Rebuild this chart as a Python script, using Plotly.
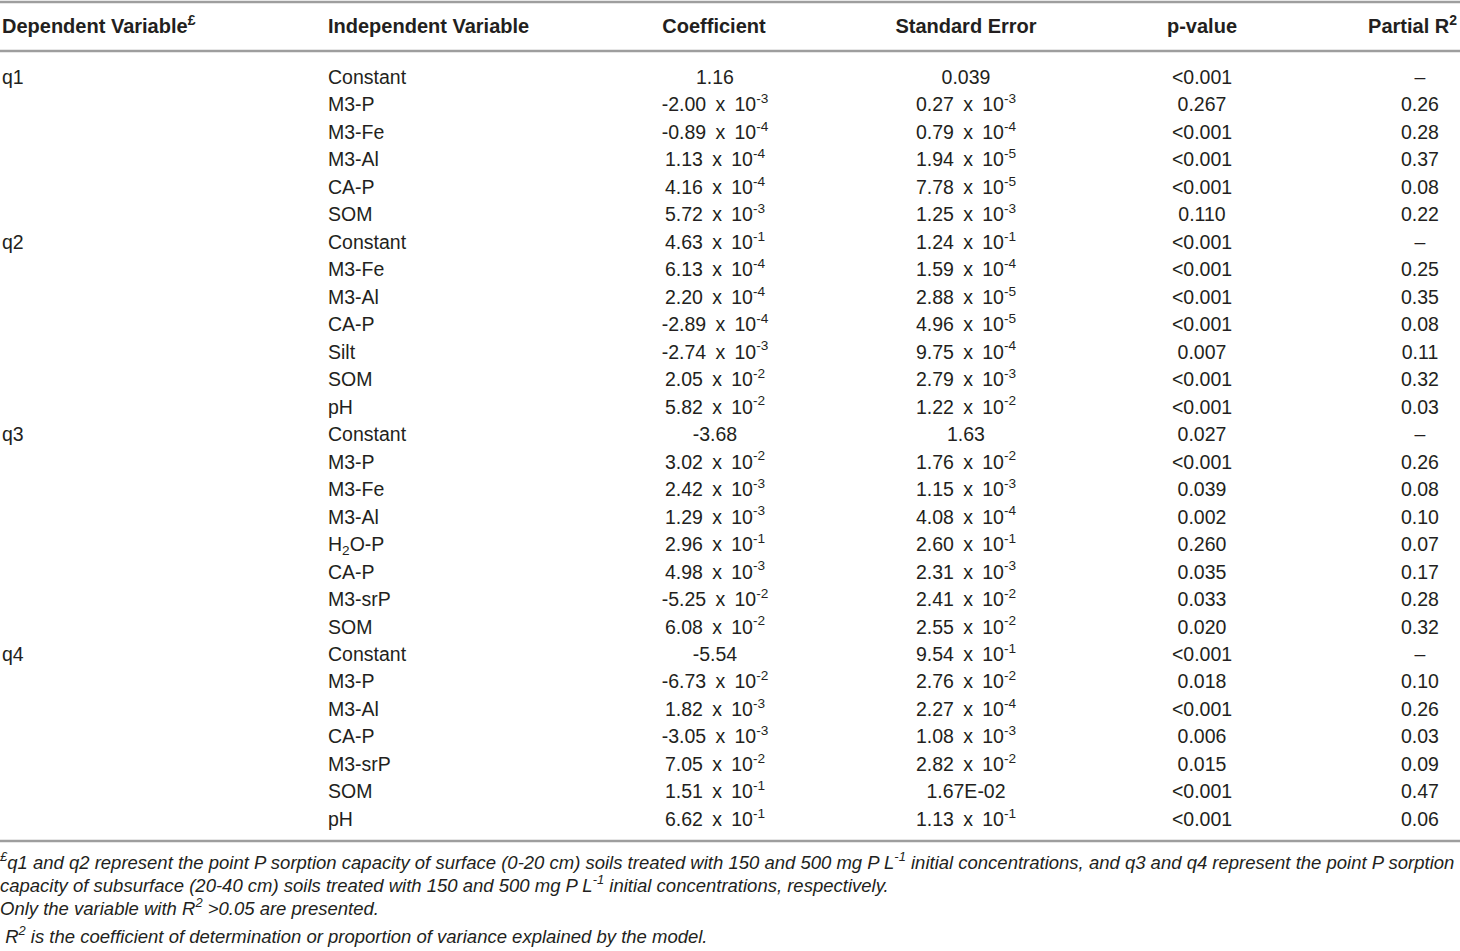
import re
import plotly.graph_objects as go

# table content
headers = ["Dependent Variable<sup>£</sup>", "Independent Variable", "Coefficient",
           "Standard Error", "p-value", "Partial R<sup>2</sup>"]

groups = ["q1", "q2", "q3", "q4"]
group_sizes = [6, 7, 8, 7]

independent = ["Constant", "M3-P", "M3-Fe", "M3-Al", "CA-P", "SOM",
               "Constant", "M3-Fe", "M3-Al", "CA-P", "Silt", "SOM", "pH",
               "Constant", "M3-P", "M3-Fe", "M3-Al", "H<sub>2</sub>O-P", "CA-P", "M3-srP", "SOM",
               "Constant", "M3-P", "M3-Al", "CA-P", "M3-srP", "SOM", "pH"]

coefficient = ["1.16", "-2.00 x 10^-3", "-0.89 x 10^-4", "1.13 x 10^-4", "4.16 x 10^-4", "5.72 x 10^-3",
               "4.63 x 10^-1", "6.13 x 10^-4", "2.20 x 10^-4", "-2.89 x 10^-4", "-2.74 x 10^-3",
               "2.05 x 10^-2", "5.82 x 10^-2",
               "-3.68", "3.02 x 10^-2", "2.42 x 10^-3", "1.29 x 10^-3", "2.96 x 10^-1", "4.98 x 10^-3",
               "-5.25 x 10^-2", "6.08 x 10^-2",
               "-5.54", "-6.73 x 10^-2", "1.82 x 10^-3", "-3.05 x 10^-3", "7.05 x 10^-2",
               "1.51 x 10^-1", "6.62 x 10^-1"]

std_error = ["0.039", "0.27 x 10^-3", "0.79 x 10^-4", "1.94 x 10^-5", "7.78 x 10^-5", "1.25 x 10^-3",
             "1.24 x 10^-1", "1.59 x 10^-4", "2.88 x 10^-5", "4.96 x 10^-5", "9.75 x 10^-4",
             "2.79 x 10^-3", "1.22 x 10^-2",
             "1.63", "1.76 x 10^-2", "1.15 x 10^-3", "4.08 x 10^-4", "2.60 x 10^-1", "2.31 x 10^-3",
             "2.41 x 10^-2", "2.55 x 10^-2",
             "9.54 x 10^-1", "2.76 x 10^-2", "2.27 x 10^-4", "1.08 x 10^-3", "2.82 x 10^-2",
             "1.67E-02", "1.13 x 10^-1"]

p_value = ["<0.001", "0.267", "<0.001", "<0.001", "<0.001", "0.110",
           "<0.001", "<0.001", "<0.001", "<0.001", "0.007", "<0.001", "<0.001",
           "0.027", "<0.001", "0.039", "0.002", "0.260", "0.035", "0.033", "0.020",
           "<0.001", "0.018", "<0.001", "0.006", "0.015", "<0.001", "<0.001"]

partial_r2 = ["–", "0.26", "0.28", "0.37", "0.08", "0.22",
              "–", "0.25", "0.35", "0.08", "0.11", "0.32", "0.03",
              "–", "0.26", "0.08", "0.10", "0.07", "0.17", "0.28", "0.32",
              "–", "0.10", "0.26", "0.03", "0.09", "0.47", "0.06"]

footnotes = [
    "<sup>£</sup>q1 and q2 represent the point P sorption capacity of surface (0-20 cm) soils treated with "
    "150 and 500 mg P L<sup>-1</sup> initial concentrations, and q3 and q4 represent the point P sorption",
    "capacity of subsurface (20-40 cm) soils treated with 150 and 500 mg P L<sup>-1</sup> "
    "initial concentrations, respectively.",
    "Only the variable with R<sup>2</sup> &gt;0.05 are presented.",
    "&nbsp;R<sup>2</sup> is the coefficient of determination or proportion of variance explained by the model.",
]


def fmt(s):
    if s.startswith("<"):
        s = "&lt;" + s[1:]
    s = s.replace(" x ", "&nbsp;&#8201;x&#8201;&nbsp;")
    return re.sub(r"10\^(-?\d+)", r"10<sup>\1</sup>", s)


dependent = []
for g, n in zip(groups, group_sizes):
    dependent += [g] + [""] * (n - 1)

FONT = "Liberation Sans"
INK = "#231f20"
RULE = "#9e9e9e"

n_rows = len(independent)
row_y = [79 + i * (821 - 79) / (n_rows - 1) for i in range(n_rows)]
header_y = 28

# (x, textposition) per column
cols = [
    (2, "middle right"),
    (328, "middle right"),
    (715, "middle center"),
    (966, "middle center"),
    (1202, "middle center"),
    (1420, "middle center"),
]
col_data = [dependent, independent, coefficient, std_error, p_value, partial_r2]

fig = go.Figure()

for (x, pos), vals in zip(cols, col_data):
    fig.add_trace(go.Scatter(
        x=[x] * n_rows, y=row_y, mode="text",
        text=[fmt(v) for v in vals], textposition=pos,
        textfont=dict(family=FONT, size=19.5, color=INK),
        hoverinfo="skip", showlegend=False,
    ))

# header row
head_x = [2, 328, 714, 966, 1202, 1457]
head_pos = ["middle right", "middle right", "middle center", "middle center", "middle center", "middle left"]
for x, pos, h in zip(head_x, head_pos, headers):
    fig.add_trace(go.Scatter(
        x=[x], y=[header_y], mode="text", text=[f"<b>{h}</b>"], textposition=pos,
        textfont=dict(family=FONT, size=20, color=INK),
        hoverinfo="skip", showlegend=False,
    ))

# footnotes
foot_y = [864, 887, 910, 938]
fig.add_trace(go.Scatter(
    x=[0] * len(footnotes), y=foot_y, mode="text",
    text=[f"<i>{t}</i>" for t in footnotes], textposition="middle right",
    textfont=dict(family=FONT, size=18.5, color=INK),
    hoverinfo="skip", showlegend=False,
))

for y in [2, 51, 841]:
    fig.add_shape(type="line", x0=0, x1=1460, y0=y, y1=y, xref="x", yref="y",
                  line=dict(color=RULE, width=2.5))

fig.update_layout(
    width=1460, height=951,
    margin=dict(l=0, r=0, t=0, b=0),
    paper_bgcolor="white", plot_bgcolor="white",
    xaxis=dict(range=[0, 1460], visible=False, fixedrange=True),
    yaxis=dict(range=[951, 0], visible=False, fixedrange=True),
)

fig.write_html("out.html", config={"displayModeBar": False},
               post_script="document.body.style.margin='0px';")
